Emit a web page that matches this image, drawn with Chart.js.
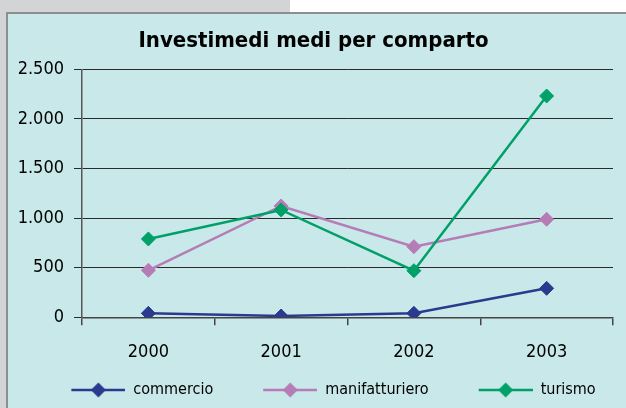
<!DOCTYPE html>
<html>
<head>
<meta charset="utf-8">
<script src="https://cdn.jsdelivr.net/npm/chart.js@4"></script>
<style>
  html, body { margin: 0; padding: 0; width: 626px; height: 408px; overflow: hidden; background: #ffffff; }
  #grayTop { position: absolute; left: 0; top: 0; width: 290px; height: 408px; background: #d3d4d6; }
  #panel { position: absolute; left: 6px; top: 12px; width: 620px; height: 396px; background: #c8e8ea;
           border-top: 2px solid #8e8e8e; border-left: 2px solid #8e8e8e; box-sizing: border-box; }
  #wrap { position: absolute; left: 6px; top: 12px; width: 620px; height: 396px; }
</style>
</head>
<body>
<div id="grayTop"></div>
<div id="panel"></div>
<div id="wrap"><canvas id="c" width="620" height="396"></canvas></div>
<script>
const chartTitle = 'Investimedi medi per comparto';
const categories = ['2000', '2001', '2002', '2003'];
const seriesNames = ['commercio', 'manifatturiero', 'turismo'];
const commercio = [40, 13, 40, 292];
const manifatturiero = [474, 1122, 712, 988];
const turismo = [790, 1082, 470, 2231];
const yTicks = [0, 500, 1000, 1500, 2000, 2500];
const seriesColors = ['#2b3a8e', '#b57cb6', '#00a068'];

const FONT = "'DejaVu Sans Condensed', 'DejaVu Sans', sans-serif";

// legend icon: transparent lead-in (item spacing) + line with diamond
const ICON_LEAD = 40, ICON_LINE = 54;
function legendIcon(color) {
  const cv = document.createElement('canvas');
  cv.width = ICON_LEAD + ICON_LINE; cv.height = 18;
  const g = cv.getContext('2d');
  g.strokeStyle = color; g.lineWidth = 2.5;
  g.beginPath(); g.moveTo(ICON_LEAD, 9); g.lineTo(ICON_LEAD + ICON_LINE, 9); g.stroke();
  g.fillStyle = color;
  const cx = ICON_LEAD + ICON_LINE / 2;
  g.beginPath(); g.moveTo(cx, 1.5); g.lineTo(cx + 7.5, 9); g.lineTo(cx, 16.5); g.lineTo(cx - 7.5, 9); g.closePath(); g.fill();
  return cv;
}
const icons = seriesColors.map(legendIcon);

const values = [commercio, manifatturiero, turismo];
const drawOrder = [2, 1, 0];
const datasets = seriesNames.map((name, i) => ({
  label: name,
  data: values[i],
  borderColor: seriesColors[i],
  backgroundColor: seriesColors[i],
  pointBackgroundColor: seriesColors[i],
  pointBorderColor: seriesColors[i],
  borderWidth: 2.5,
  pointStyle: 'rectRot',
  pointRadius: 7,
  pointBorderWidth: 1,
  tension: 0,
  order: drawOrder[i]
}));

const LEGEND_PAD = 10;
const LEGEND_FONT = 16;
const PLOT_BOTTOM = 305.3;

new Chart(document.getElementById('c'), {
  type: 'line',
  data: { labels: categories, datasets },
  options: {
    responsive: false,
    animation: false,
    devicePixelRatio: 1,
    layout: { padding: { left: 8, right: 13, top: 0, bottom: 0 } },
    plugins: {
      title: {
        display: true,
        text: chartTitle,
        color: '#000',
        font: { family: FONT, size: 22, weight: 'bold' },
        padding: { top: 16, bottom: 14.9 }
      },
      legend: {
        position: 'bottom',
        labels: {
          usePointStyle: true,
          pointStyleWidth: ICON_LEAD + ICON_LINE,
          padding: LEGEND_PAD,
          color: '#000',
          font: { family: FONT, size: LEGEND_FONT },
          sort: (a, b) => a.datasetIndex - b.datasetIndex,
          generateLabels: (chart) => {
            const items = Chart.defaults.plugins.legend.labels.generateLabels(chart);
            items.forEach(it => { it.pointStyle = icons[it.datasetIndex]; });
            return items;
          }
        }
      },
      tooltip: { enabled: false }
    },
    scales: {
      x: {
        offset: true,
        afterFit: (s) => { s.height = 396 - PLOT_BOTTOM - (LEGEND_FONT + LEGEND_PAD + 10); },
        grid: { offset: true, drawOnChartArea: false, drawTicks: true, tickLength: 8, color: '#444', lineWidth: 1.5 },
        border: { display: true, color: '#444', width: 1.5 },
        ticks: { color: '#000', font: { family: FONT, size: 18 }, padding: 16 }
      },
      y: {
        min: 0,
        max: 2500,
        afterFit: (s) => { s.width = 68; },
        afterBuildTicks: (s) => { s.ticks = yTicks.map(v => ({ value: v })); },
        grid: { color: '#2a2a2a', lineWidth: 1, tickLength: 8 },
        border: { display: true, color: '#555', width: 1.5 },
        ticks: {
          color: '#000',
          padding: 10,
          font: { family: FONT, size: 18 },
          callback: (v) => Number(v).toLocaleString('it-IT').replace(/\s/g, '.')
        }
      }
    }
  }
});
</script>
</body>
</html>
